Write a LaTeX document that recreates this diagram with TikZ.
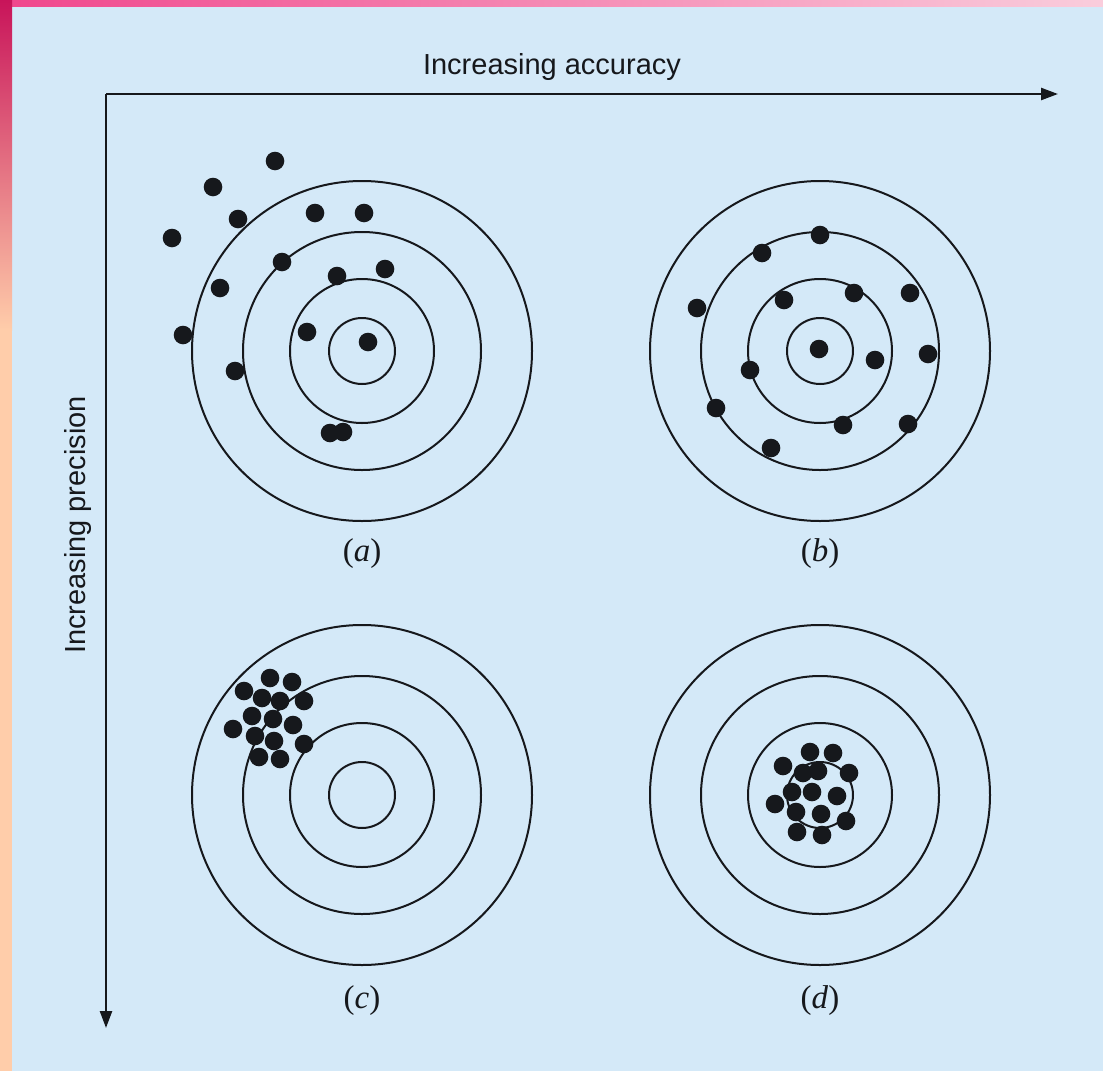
\documentclass[tikz,border=0pt]{standalone}
\usepackage{fontspec}
\setmainfont{Liberation Serif}
\setsansfont{Liberation Sans}
\usetikzlibrary{arrows.meta}
\definecolor{bg}{RGB}{212,233,248}
\definecolor{ink}{RGB}{22,24,28}
\definecolor{magA}{RGB}{200,20,90}
\definecolor{magB}{RGB}{240,70,140}
\definecolor{peach}{RGB}{255,205,170}
\definecolor{pinkL}{RGB}{250,205,220}
\begin{document}
\begin{tikzpicture}[x=1pt,y=-1pt,
  ring/.style={draw=ink, line width=2pt},
  dot/.style={fill=ink},
  axis/.style={draw=ink, line width=2.4pt, -{Triangle[length=17pt,width=12pt]}},
  axlabel/.style={font=\sffamily\fontsize{29}{34}\selectfont, text=ink, inner sep=0pt},
  panlabel/.style={font=\rmfamily\fontsize{33}{38}\selectfont, text=ink, inner sep=0pt}]
\useasboundingbox (0,0) rectangle (1103,1071);
\fill[bg] (0,0) rectangle (1103,1071);
% decorative border strips
\shade[left color=magB, right color=pinkL] (0,0) rectangle (1103,6);
\shade[top color=magA, bottom color=peach] (0,0) rectangle (12,330);
\fill[peach] (0,329) rectangle (12,1071);
% axes
\coordinate (O) at (106,94);
\coordinate (XE) at (1058,94);
\coordinate (YE) at (106,1028);
\draw[axis] (O) -- (XE);
\draw[axis] (O) -- (YE);
\node[axlabel] (acc) at (552,67) {Increasing accuracy};
\node[axlabel, rotate=90] (prec) at (78,525) {Increasing precision};
% targets
\foreach \n/\cx/\cy in {A/362/351, B/820/351, C/362/795, D/820/795}{
  \coordinate (\n) at (\cx,\cy);
  \draw[ring] (\n) circle[radius=170];
  \draw[ring] (\n) circle[radius=119];
  \draw[ring] (\n) circle[radius=72];
  \draw[ring] (\n) circle[radius=33];
}
% (a) dots
\foreach \x/\y in {275/161, 213/187, 238/219, 172/238, 315/213, 364/213, 282/262, 385/269, 337/276, 220/288, 183/335, 307/332, 368/342, 235/371, 330/433, 343/432}
  \fill[dot] (\x,\y) circle[radius=9.3];
% (b) dots
\foreach \x/\y in {820/235, 762/253, 697/308, 784/300, 854/293, 910/293, 819/349, 875/360, 928/354, 750/370, 716/408, 843/425, 908/424, 771/448}
  \fill[dot] (\x,\y) circle[radius=9.3];
% (c) dots
\foreach \x/\y in {270/678, 292/682, 244/691, 262/698, 280/701, 304/701, 252/716, 273/719, 293/725, 233/729, 255/736, 274/741, 304/744, 259/757, 280/759}
  \fill[dot] (\x,\y) circle[radius=9.3];
% (d) dots
\foreach \x/\y in {810/752, 833/753, 783/766, 803/773, 818/771, 849/773, 792/792, 812/792, 837/796, 775/804, 796/812, 821/814, 846/821, 797/832, 822/835}
  \fill[dot] (\x,\y) circle[radius=9.3];
% labels
\node[panlabel] (la) at (362,554) {(\textit{a})};
\node[panlabel] (lb) at (820,554) {(\textit{b})};
\node[panlabel] (lc) at (362,1001) {(\textit{c})};
\node[panlabel] (ld) at (820,1001) {(\textit{d})};
\end{tikzpicture}
\end{document}
